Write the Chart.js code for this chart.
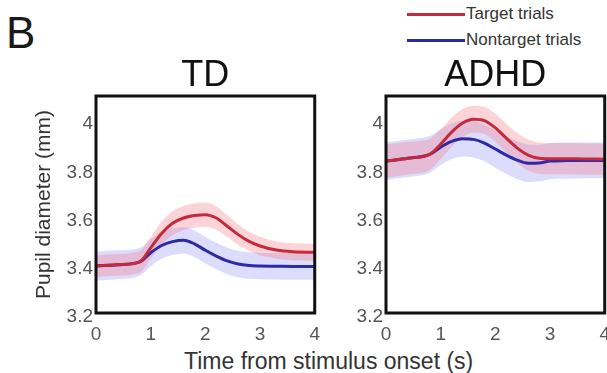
<!DOCTYPE html>
<html>
<head>
<meta charset="utf-8">
<script src="https://cdn.jsdelivr.net/npm/chart.js@4"></script>
<style>
  body { margin: 0; width: 607px; height: 373px; overflow: hidden; background: #fff; position: relative;
         font-family: 'Liberation Sans', Arial, sans-serif; }
  canvas { position: absolute; }
  #panelB { position: absolute; left: 6px; top: 11px; font-size: 44px; line-height: 1; color: #1a1a1a; }
  .leg { position: absolute; left: 407px; font-size: 17px; line-height: 20px; color: #333; display: flex; align-items: center; }
  .leg .ln { display: inline-block; width: 58px; height: 3px; margin-right: 1px; }
  #xTitle { position: absolute; left: 184px; top: 349px; font-size: 23px; line-height: 24px; color: #333; white-space: nowrap; }
</style>
</head>
<body>
<div id="panelB">B</div>
<div class="leg" style="top:4px"><span class="ln" style="background:#c42a3c"></span>Target trials</div>
<div class="leg" style="top:30px"><span class="ln" style="background:#2d2aa6"></span>Nontarget trials</div>
<div id="xTitle">Time from stimulus onset (s)</div>
<canvas id="tdChart" width="330" height="293" style="left:0;top:50px"></canvas>
<canvas id="adhdChart" width="320" height="293" style="left:300px;top:50px"></canvas>
<script>
// time axis (s)
const times = [0, 0.4, 0.8, 1.0, 1.2, 1.4, 1.6, 1.8, 2.0, 2.2, 2.4, 2.6, 2.8, 3.0, 3.3, 3.6, 4.0];
const xTicks = [0, 1, 2, 3, 4];
const yTicks = [3.2, 3.4, 3.6, 3.8, 4];

// TD group, pupil diameter (mm) and shaded error
const tdTarget       = [3.395, 3.400, 3.412, 3.470, 3.530, 3.572, 3.594, 3.604, 3.608, 3.594, 3.560, 3.525, 3.497, 3.478, 3.461, 3.454, 3.452];
const tdTargetSem    = [0.045, 0.045, 0.045, 0.045, 0.048, 0.050, 0.050, 0.050, 0.050, 0.048, 0.045, 0.042, 0.040, 0.038, 0.036, 0.035, 0.035];
const tdNontarget    = [3.395, 3.400, 3.412, 3.450, 3.480, 3.496, 3.502, 3.487, 3.460, 3.436, 3.416, 3.403, 3.397, 3.395, 3.394, 3.393, 3.393];
const tdNontargetSem = [0.060, 0.060, 0.058, 0.056, 0.055, 0.055, 0.055, 0.055, 0.055, 0.055, 0.055, 0.055, 0.055, 0.055, 0.055, 0.055, 0.055];

// ADHD group
const adhdTarget       = [3.830, 3.842, 3.858, 3.900, 3.950, 3.988, 4.004, 3.998, 3.968, 3.925, 3.884, 3.855, 3.842, 3.840, 3.840, 3.839, 3.838];
const adhdTargetSem    = [0.070, 0.068, 0.065, 0.062, 0.060, 0.058, 0.056, 0.056, 0.058, 0.060, 0.062, 0.065, 0.065, 0.065, 0.065, 0.065, 0.065];
const adhdNontarget    = [3.830, 3.842, 3.858, 3.888, 3.912, 3.923, 3.920, 3.905, 3.880, 3.855, 3.834, 3.821, 3.822, 3.830, 3.832, 3.833, 3.833];
const adhdNontargetSem = [0.078, 0.078, 0.076, 0.074, 0.074, 0.074, 0.075, 0.076, 0.078, 0.078, 0.078, 0.078, 0.076, 0.075, 0.075, 0.074, 0.074];

const redLine = '#c42a3c', blueLine = '#2d2aa6';
const redBand = 'rgba(245, 120, 135, 0.32)', blueBand = 'rgba(130, 130, 245, 0.28)';

Chart.defaults.font.family = "'Liberation Sans', Arial, sans-serif";

function pts(vals, sem, sign) {
  return vals.map((v, i) => ({ x: times[i], y: sem ? v + sign * sem[i] : v }));
}

// black box round the plot area
const frame = {
  id: 'frame',
  afterDatasetsDraw(chart) {
    const { ctx, chartArea: a } = chart;
    ctx.save();
    ctx.strokeStyle = '#111';
    ctx.lineWidth = 3;
    ctx.strokeRect(a.left, a.top, a.right - a.left, a.bottom - a.top);
    ctx.restore();
  }
};

// title centred over the plot area, not the canvas
const panelTitle = {
  id: 'panelTitle',
  afterDraw(chart, args, opts) {
    const { ctx, chartArea: a } = chart;
    ctx.save();
    ctx.font = "36px 'Liberation Sans', Arial, sans-serif";
    ctx.fillStyle = '#111';
    ctx.textAlign = 'center';
    ctx.textBaseline = 'alphabetic';
    ctx.fillText(opts.text, (a.left + a.right) / 2, a.top - 10);
    ctx.restore();
  }
};

function makePanel(id, title, target, targetSem, nontarget, nontargetSem, yWidth, padRight, yTitle) {
  const line = (data, color) => ({
    data, borderColor: color, borderWidth: 3, pointRadius: 0, fill: false, cubicInterpolationMode: 'monotone'
  });
  const band = (data, color, fill) => ({
    data, borderWidth: 0, pointRadius: 0, backgroundColor: color, fill, cubicInterpolationMode: 'monotone'
  });
  new Chart(document.getElementById(id), {
    type: 'line',
    data: {
      datasets: [
        line(pts(target), redLine),
        line(pts(nontarget), blueLine),
        band(pts(target, targetSem, 1), redBand, '+1'),
        band(pts(target, targetSem, -1), redBand, false),
        band(pts(nontarget, nontargetSem, 1), blueBand, '+1'),
        band(pts(nontarget, nontargetSem, -1), blueBand, false)
      ]
    },
    options: {
      responsive: false,
      animation: false,
      layout: { padding: { top: 46, right: padRight, left: 0, bottom: 0 } },
      plugins: { legend: { display: false }, tooltip: { enabled: false }, panelTitle: { text: title } },
      scales: {
        x: {
          type: 'linear', min: 0, max: 4,
          afterBuildTicks: s => { s.ticks = xTicks.map(v => ({ value: v })); },
          afterFit: s => { s.height = 30; },
          grid: { display: false, drawTicks: false },
          border: { display: false },
          ticks: { color: '#555', font: { size: 19 }, padding: 10, maxRotation: 0 }
        },
        y: {
          type: 'linear', min: 3.2, max: 4.1,
          afterBuildTicks: s => { s.ticks = yTicks.map(v => ({ value: v })); },
          afterFit: s => { s.width = yWidth; },
          grid: { display: false, drawTicks: false },
          border: { display: false },
          ticks: { color: '#555', font: { size: 19 }, padding: 3, labelOffset: 4, callback: v => String(v) },
          title: {
            display: !!yTitle, text: yTitle || '', color: '#333',
            font: { size: 21 }, padding: { top: 32, bottom: 0 }
          }
        }
      }
    },
    plugins: [frame, panelTitle]
  });
}

makePanel('tdChart', 'TD', tdTarget, tdTargetSem, tdNontarget, tdNontargetSem, 96, 14, 'Pupil diameter (mm)');
makePanel('adhdChart', 'ADHD', adhdTarget, adhdTargetSem, adhdNontarget, adhdNontargetSem, 86, 15, null);
</script>
</body>
</html>
